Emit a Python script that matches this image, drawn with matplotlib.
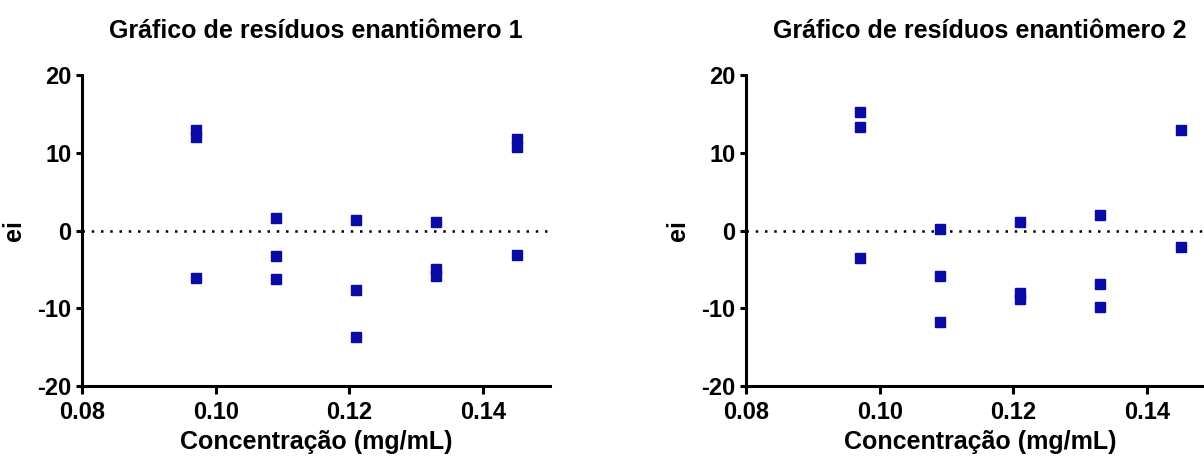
import matplotlib.pyplot as plt

plt.rcParams['font.family'] = 'Liberation Sans'
plt.rcParams['font.weight'] = 'bold'
plt.rcParams['axes.unicode_minus'] = False

# concentrations (mg/mL) and residuals for each enantiomer
conc_1 = [0.097, 0.097, 0.097,
          0.109, 0.109, 0.109,
          0.121, 0.121, 0.121,
          0.133, 0.133, 0.133,
          0.145, 0.145, 0.145]
res_1 = [12.9, 12.0, -6.1,
         1.6, -3.3, -6.3,
         1.3, -7.6, -13.7,
         1.1, -4.9, -5.9,
         11.8, 10.8, -3.1]

conc_2 = [0.097, 0.097, 0.097,
          0.109, 0.109, 0.109,
          0.121, 0.121, 0.121,
          0.133, 0.133, 0.133,
          0.145, 0.145]
res_2 = [15.2, 13.3, -3.6,
         0.2, -5.8, -11.8,
         1.1, -8.0, -8.8,
         2.0, -6.9, -9.9,
         12.9, -2.1]

titles = ['Gráfico de resíduos enantiômero 1', 'Gráfico de resíduos enantiômero 2']
x_ticks = [0.08, 0.10, 0.12, 0.14]
y_ticks = [-20, -10, 0, 10, 20]

fig = plt.figure(figsize=(12.04, 4.59), dpi=100)
ax1 = fig.add_axes([82 / 1204, 1 - 386 / 459, 468 / 1204, 311 / 459])
ax2 = fig.add_axes([746 / 1204, 1 - 386 / 459, 468 / 1204, 311 / 459])

for ax, x, y, title in [(ax1, conc_1, res_1, titles[0]), (ax2, conc_2, res_2, titles[1])]:
    ax.axhline(0, color='black', linestyle=(0, (1, 2.7)), linewidth=1.8, zorder=1)
    ax.plot(x, y, 's', color='#0a0aa5', markersize=6.5, zorder=3, clip_on=False)
    ax.set_xlim(0.08, 0.15)
    ax.set_ylim(-20, 20)
    ax.set_xticks(x_ticks)
    ax.set_xticklabels(['%.2f' % v for v in x_ticks])
    ax.set_yticks(y_ticks)
    ax.spines['top'].set_visible(False)
    ax.spines['right'].set_visible(False)
    ax.spines['left'].set_linewidth(2.2)
    ax.spines['bottom'].set_linewidth(2.2)
    ax.tick_params(axis='x', width=2.2, length=6, labelsize=17, pad=5)
    ax.tick_params(axis='y', width=2.2, length=4.5, labelsize=17, pad=3)
    ax.set_title(title, fontsize=18, fontweight='bold', pad=27)
    ax.set_xlabel('Concentração (mg/mL)', fontsize=18, fontweight='bold', labelpad=4)
    ax.set_ylabel('ei', fontsize=18, fontweight='bold', labelpad=8)

fig.savefig('out.png', dpi=100)
